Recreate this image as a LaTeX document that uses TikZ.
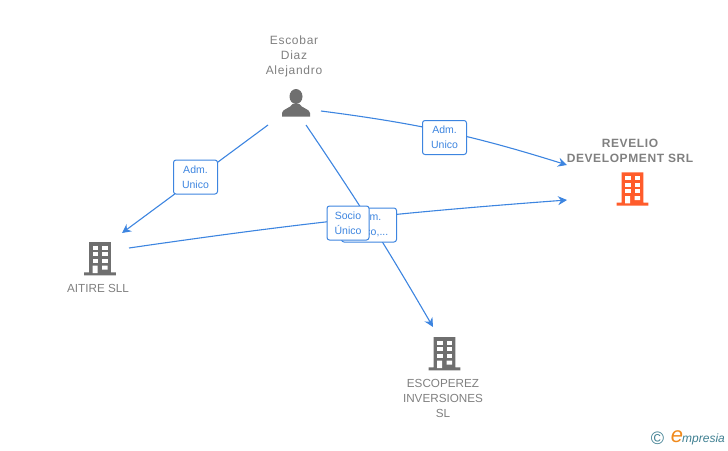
\documentclass[tikz,border=0pt]{standalone}
\usepackage{fontspec}
\setmainfont{Liberation Sans}
\usetikzlibrary{arrows.meta}
\definecolor{linkblue}{HTML}{3D85E0}
\definecolor{namegray}{HTML}{808080}
\definecolor{icongray}{HTML}{6F6F6F}
\definecolor{iconred}{HTML}{FF5C2B}
\definecolor{logoteal}{HTML}{3F7F91}
\definecolor{logoorange}{HTML}{F08A1D}
\tikzset{
  link/.style={linkblue,line width=1.1pt,-{Stealth[length=9pt,width=9pt,inset=3pt]}},
  role/.style={draw=linkblue,fill=white,rounded corners=2.5pt,line width=1pt,text=linkblue,font=\fontsize{10.5}{15}\selectfont,align=center,inner sep=0pt},
  entity/.style={text=namegray,font=\fontsize{11.7}{15}\selectfont,align=center,inner sep=0pt},
  building/.pic={
    \fill[pic actions] (-10.8,0) rectangle (10.8,31)
      (-15.8,30.4) rectangle (15.8,33.4);
    \foreach \row in {3.7,10.4,17}
      \foreach \col in {-7.5,2}
        \fill[white] (\col,\row) rectangle ++(5.5,4);
    \fill[white] (-7.5,23.7) rectangle (-2.3,31) (2,23.7) rectangle (7.5,27.7);
  },
  person/.pic={
    \fill[pic actions] (0,6.5) ellipse (6.5 and 7.5);
    \fill[pic actions] (-14,26.7) -- (-14,23) .. controls (-14,19) and (-5,18) .. (-3.5,14) -- (3.5,14)
      .. controls (5,18) and (14,19) .. (14,23) -- (14,26.7) -- cycle;
  }
}
\begin{document}
\begin{tikzpicture}[x=1pt,y=-1pt]
  \useasboundingbox (0,0) rectangle (728,450);
  % names and icons
  \node[entity,font=\fontsize{12}{15}\selectfont\addfontfeature{LetterSpace=6}] (escobar) at (294,56.5) {Escobar\\Diaz\\Alejandro};
  \node[entity,font=\bfseries\fontsize{12}{15}\selectfont\addfontfeature{LetterSpace=5}] (revelio) at (630,150.5) {REVELIO\\DEVELOPMENT SRL};
  \node[entity] (aitire) at (98,288.5) {AITIRE SLL};
  \node[entity] (escoperez) at (443,398.5) {ESCOPEREZ\\INVERSIONES\\SL};
  \pic[icongray] at (296,90) {person};
  \pic[iconred] at (632.5,172.3) {building};
  \pic[icongray] at (100,242) {building};
  \pic[icongray] at (444.5,337) {building};
  % connector ends
  \coordinate (escobarL) at (268,125);
  \coordinate (escobarB) at (306,125);
  \coordinate (escobarR) at (321,111);
  \coordinate (aitireT) at (122,233);
  \coordinate (aitireR) at (129,248);
  \coordinate (revelioA) at (567,165);
  \coordinate (revelioB) at (567,200);
  \coordinate (escoperezT) at (433,327);
  \draw[link] (escobarL) -- (aitireT);
  \draw[link] (escobarR) to[bend left=5] (revelioA);
  \draw[link] (escobarB) to[bend left=2] (escoperezT);
  \draw[link] (aitireR) to[bend left=2] (revelioB);
  % role boxes
  \node[role,minimum width=44pt,minimum height=34pt] (admA) at (195.5,177) {Adm.\\Unico};
  \node[role,minimum width=44pt,minimum height=34pt] (admB) at (444.5,137.5) {Adm.\\Unico};
  \node[role,minimum width=55pt,minimum height=34pt] (admC) at (369,225) {Adm.\\Unico,...};
  \node[role,minimum width=42pt,minimum height=34pt] (socio) at (348,223) {Socio\\Único};
  % logo
  \node[text=logoteal,inner sep=0pt,font=\fontsize{18}{18}\selectfont] (copy) at (657.5,438.5) {©};
  \node[text=logoorange,inner sep=0pt,font=\itshape\fontsize{22}{22}\selectfont] (logoe) at (677,437) {e};
  \node[text=logoteal,inner sep=0pt,anchor=west,font=\itshape\fontsize{12}{12}\selectfont] (logo) at (682,439.5) {mpresia};
\end{tikzpicture}
\end{document}
